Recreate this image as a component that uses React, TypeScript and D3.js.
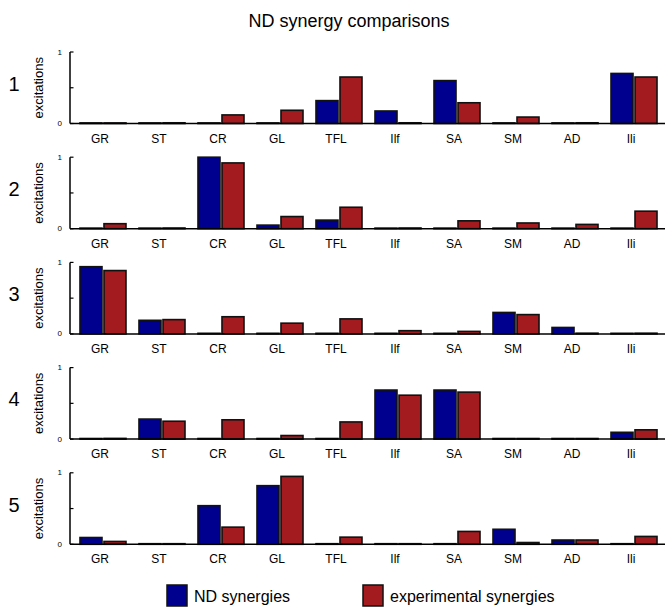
import React from 'react';
import * as d3 from 'd3';

document.body.style.margin = '0';

const muscles = ['GR', 'ST', 'CR', 'GL', 'TFL', 'Ilf', 'SA', 'SM', 'AD', 'Ili'];
const seriesNames = ['ND synergies', 'experimental synergies'];
const seriesColors = ['#00008f', '#a31a1f'];
const yTicks = [0, 0.5, 1];

// one row per synergy
const ndSynergies = [
  [0, 0, 0, 0, 0.32, 0.175, 0.6, 0, 0, 0.7],
  [0, 0, 1.0, 0.05, 0.12, 0, 0, 0, 0, 0],
  [0.94, 0.19, 0, 0, 0, 0, 0, 0.3, 0.09, 0],
  [0, 0.28, 0, 0, 0, 0.686, 0.686, 0.005, 0.005, 0.095],
  [0.095, 0.005, 0.54, 0.82, 0, 0.005, 0, 0.21, 0.06, 0],
];
const expSynergies = [
  [0.005, 0.01, 0.12, 0.185, 0.65, 0.01, 0.29, 0.09, 0.01, 0.65],
  [0.07, 0.01, 0.92, 0.17, 0.3, 0.01, 0.11, 0.08, 0.06, 0.245],
  [0.886, 0.2, 0.24, 0.15, 0.21, 0.045, 0.035, 0.27, 0.01, 0.01],
  [0.01, 0.25, 0.27, 0.05, 0.24, 0.614, 0.657, 0.005, 0.005, 0.13],
  [0.04, 0.005, 0.24, 0.95, 0.1, 0.005, 0.18, 0.025, 0.06, 0.11],
];

const width = 665;
const height = 608;
const axisX = 70;
const panelTop = 52;
const panelStep = 105.2;
const panelH = 71.5;
const font = '"Liberation Sans", Arial, Helvetica, sans-serif';

const x = d3.scaleBand().domain(muscles).range([73.5, 663.5]).paddingInner(13 / 59).paddingOuter(0.11);
const xInner = d3.scaleBand().domain(['nd', 'exp']).range([0, x.bandwidth()]).paddingInner(2 / 24);

const Panel = ({ index }: { index: number }) => {
  const top = panelTop + index * panelStep;
  const base = top + panelH;
  const y = d3.scaleLinear().domain([0, 1]).range([base, top]);
  const rows = [ndSynergies[index], expSynergies[index]];
  const keys = ['nd', 'exp'];
  return (
    <g>
      <text x={14} y={y(0.5) - 4} fontSize={20} fontFamily={font} textAnchor="middle" dominantBaseline="central">
        {index + 1}
      </text>
      <text
        transform={`translate(38, ${y(0.5)}) rotate(-90)`}
        fontSize={13}
        fontFamily={font}
        textAnchor="middle"
        dominantBaseline="central"
      >
        excitations
      </text>
      {rows.map((vals, s) =>
        vals.map((v, i) => {
          const h = Math.max(base - y(v), 0.6);
          return (
            <rect
              key={`${s}-${i}`}
              x={(x(muscles[i]) as number) + (xInner(keys[s]) as number)}
              y={base - h}
              width={xInner.bandwidth()}
              height={h}
              fill={seriesColors[s]}
              stroke="#111"
              strokeWidth={1.6}
            />
          );
        })
      )}
      <line x1={axisX} x2={width} y1={base} y2={base} stroke="#000" strokeWidth={1.5} />
      <line x1={axisX} x2={axisX} y1={top} y2={base} stroke="#000" strokeWidth={1.5} />
      {yTicks.map((t) => (
        <g key={t}>
          <line x1={axisX} x2={axisX + 3.5} y1={y(t)} y2={y(t)} stroke="#000" strokeWidth={1.2} />
          {t !== 0.5 && (
            <text x={axisX - 8} y={y(t)} fontSize={8} fontFamily={font} textAnchor="end" dominantBaseline="central">
              {t}
            </text>
          )}
        </g>
      ))}
      {muscles.map((m) => (
        <text
          key={m}
          x={(x(m) as number) + x.bandwidth() / 2 - 3}
          y={base + 15}
          fontSize={12}
          fontFamily={font}
          textAnchor="middle"
          dominantBaseline="central"
        >
          {m}
        </text>
      ))}
    </g>
  );
};

const legendX = [167, 363];

export default function App() {
  return (
    <svg width={width} height={height} style={{ display: 'block' }}>
      <rect width={width} height={height} fill="#fff" />
      <text x={349} y={27} fontSize={18} fontFamily={font} textAnchor="middle">
        ND synergy comparisons
      </text>
      {ndSynergies.map((_, i) => (
        <Panel key={i} index={i} />
      ))}
      {seriesNames.map((name, i) => (
        <g key={name}>
          <rect x={legendX[i]} y={585} width={20} height={21} fill={seriesColors[i]} stroke="#111" strokeWidth={1.5} />
          <text x={legendX[i] + 27} y={602} fontSize={16} fontFamily={font}>
            {name}
          </text>
        </g>
      ))}
    </svg>
  );
}
